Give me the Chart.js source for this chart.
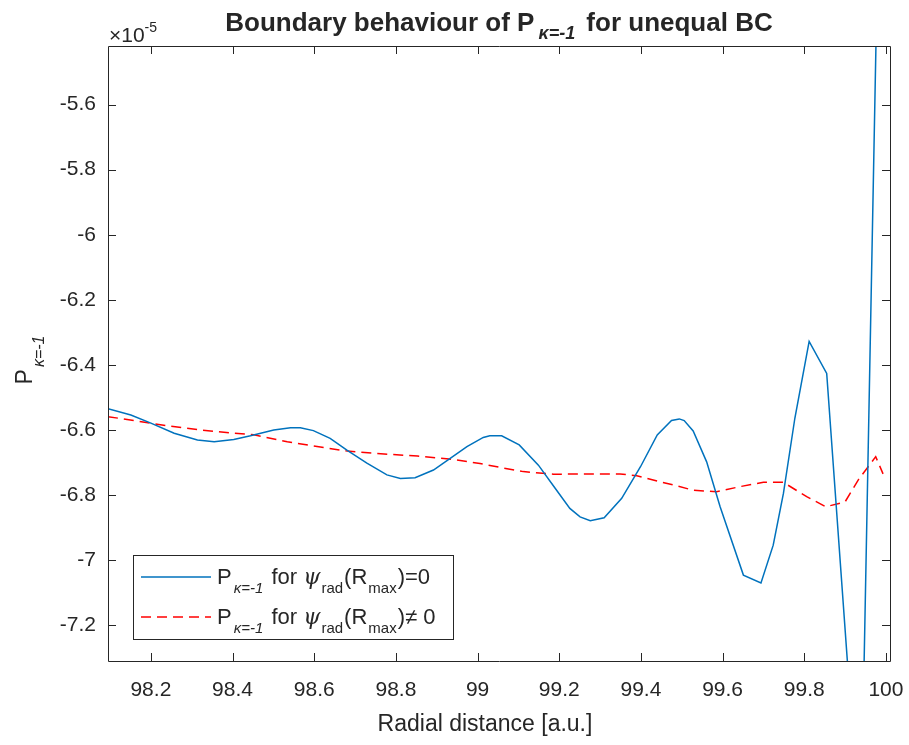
<!DOCTYPE html>
<html>
<head>
<meta charset="utf-8">
<script src="https://cdn.jsdelivr.net/npm/chart.js"></script>
<style>
  html, body { margin: 0; padding: 0; background: #fff; }
  #wrap { width: 909px; height: 745px; }
</style>
</head>
<body>
<div id="wrap"><canvas id="chart" width="909" height="745"></canvas></div>
<script>
// y values are in units of 1e-5 (axis shows x10^-5)
const blueX = [98.095, 98.151, 98.200, 98.257, 98.314, 98.355, 98.403, 98.444, 98.501, 98.542,
  98.566, 98.598, 98.639, 98.680, 98.729, 98.778, 98.811, 98.847, 98.892, 98.933,
  98.974, 99.014, 99.030, 99.059, 99.102, 99.149, 99.190, 99.226, 99.251, 99.276,
  99.310, 99.353, 99.399, 99.440, 99.475, 99.494, 99.506, 99.528, 99.561, 99.594,
  99.651, 99.694, 99.724, 99.749, 99.777, 99.812, 99.855, 99.938, 99.980];
const blueY = [-6.535, -6.554, -6.579, -6.610, -6.631, -6.636, -6.629, -6.618, -6.600, -6.593,
  -6.593, -6.602, -6.626, -6.662, -6.702, -6.738, -6.749, -6.747, -6.723, -6.687,
  -6.651, -6.623, -6.618, -6.618, -6.646, -6.708, -6.779, -6.841, -6.867, -6.879,
  -6.870, -6.810, -6.713, -6.615, -6.571, -6.566, -6.571, -6.603, -6.698, -6.836,
  -7.046, -7.070, -6.954, -6.795, -6.564, -6.328, -6.426, -7.876, -5.130];

const redX = [98.095, 98.158, 98.239, 98.321, 98.403, 98.452, 98.534, 98.607, 98.681, 98.771,
  98.853, 98.930, 99.006, 99.055, 99.112, 99.186, 99.276, 99.349, 99.390, 99.430,
  99.479, 99.528, 99.585, 99.643, 99.700, 99.749, 99.806, 99.853, 99.900, 99.932,
  99.975, 99.993];
const redY = [-6.559, -6.571, -6.587, -6.600, -6.610, -6.615, -6.636, -6.651, -6.665, -6.674,
  -6.680, -6.689, -6.703, -6.715, -6.728, -6.736, -6.735, -6.735, -6.741, -6.754,
  -6.769, -6.785, -6.790, -6.774, -6.761, -6.761, -6.805, -6.836, -6.821, -6.754,
  -6.682, -6.735];

const xTicks = [98.2, 98.4, 98.6, 98.8, 99, 99.2, 99.4, 99.6, 99.8, 100];
const xTickLabels = ['98.2', '98.4', '98.6', '98.8', '99', '99.2', '99.4', '99.6', '99.8', '100'];
const yTicks = [-7.2, -7, -6.8, -6.6, -6.4, -6.2, -6, -5.8, -5.6];
const yTickLabels = ['-7.2', '-7', '-6.8', '-6.6', '-6.4', '-6.2', '-6', '-5.8', '-5.6'];

const FONT = '"Liberation Sans", Arial, sans-serif';
const INK = '#262626';
const BLUE = '#0072BD';
const RED = '#FF0000';

function toPoints(xs, ys) {
  return xs.map((x, i) => ({ x: x, y: ys[i] }));
}

// rows of text pieces, for the sub/superscripts
function richWidth(ctx, parts) {
  let w = 0;
  parts.forEach(p => {
    ctx.font = p.font;
    w += ctx.measureText(p.t).width + (p.gap || 0);
  });
  return w;
}
function drawRich(ctx, x, y, parts, align) {
  let cx = x;
  if (align === 'center') cx = x - richWidth(ctx, parts) / 2;
  ctx.textAlign = 'left';
  ctx.textBaseline = 'alphabetic';
  parts.forEach(p => {
    ctx.font = p.font;
    cx += (p.gap || 0) / 2;
    ctx.fillText(p.t, cx, y + (p.dy || 0));
    cx += ctx.measureText(p.t).width + (p.gap || 0) / 2;
  });
}

const decorations = {
  id: 'decorations',
  afterDraw(chart) {
    const ctx = chart.ctx;
    const a = chart.chartArea;
    const xs = chart.scales.x, ys = chart.scales.y;
    ctx.save();
    ctx.strokeStyle = INK;
    ctx.fillStyle = INK;
    ctx.lineWidth = 1;

    // box and inward ticks on all sides
    ctx.beginPath();
    ctx.rect(a.left + 0.5, a.top + 0.5, a.right - a.left, a.bottom - a.top);
    xTicks.forEach(v => {
      const px = Math.round(xs.getPixelForValue(v)) + 0.5;
      ctx.moveTo(px, a.bottom); ctx.lineTo(px, a.bottom - 8);
      ctx.moveTo(px, a.top); ctx.lineTo(px, a.top + 8);
    });
    yTicks.forEach(v => {
      const py = Math.round(ys.getPixelForValue(v)) + 0.5;
      ctx.moveTo(a.left, py); ctx.lineTo(a.left + 8, py);
      ctx.moveTo(a.right, py); ctx.lineTo(a.right - 8, py);
    });
    ctx.stroke();

    // title
    const cxMid = (a.left + a.right) / 2;
    drawRich(ctx, cxMid, 31, [
      { t: 'Boundary behaviour of P', font: 'bold 26px ' + FONT },
      { t: 'κ=-1', font: 'bold italic 18px ' + FONT, dy: 8, gap: 8 },
      { t: ' for unequal BC', font: 'bold 26px ' + FONT }
    ], 'center');

    // exponent label
    drawRich(ctx, a.left + 1, 42, [
      { t: '×10', font: '21px ' + FONT },
      { t: '-5', font: '14px ' + FONT, dy: -10 }
    ], 'left');

    // x label
    drawRich(ctx, cxMid - 14, 731, [
      { t: 'Radial distance [a.u.]', font: '23px ' + FONT }
    ], 'center');

    // y label, rotated
    ctx.save();
    ctx.translate(32, 359);
    ctx.rotate(-Math.PI / 2);
    drawRich(ctx, 0, 0, [
      { t: 'P', font: '23px ' + FONT },
      { t: 'κ=-1', font: 'italic 16px ' + FONT, dy: 12, gap: 4 }
    ], 'center');
    ctx.restore();

    // legend
    const lx = 133, ly = 555, lw = 320, lh = 84;
    ctx.fillStyle = '#fff';
    ctx.fillRect(lx, ly, lw, lh);
    ctx.strokeStyle = INK;
    ctx.strokeRect(lx + 0.5, ly + 0.5, lw, lh);
    const rows = [
      { color: BLUE, dash: [], y: 577, end: ')=0' },
      { color: RED, dash: [10, 6], y: 617, end: ')≠ 0' }
    ];
    rows.forEach(r => {
      ctx.strokeStyle = r.color;
      ctx.lineWidth = 1.5;
      ctx.setLineDash(r.dash);
      ctx.beginPath();
      ctx.moveTo(141, r.y); ctx.lineTo(211, r.y);
      ctx.stroke();
      ctx.setLineDash([]);
      ctx.fillStyle = INK;
      drawRich(ctx, 217, r.y + 7, [
        { t: 'P', font: '22px ' + FONT },
        { t: 'κ=-1', font: 'italic 15px ' + FONT, dy: 9, gap: 4 },
        { t: ' for ', font: '22px ' + FONT },
        { t: 'ψ', font: 'italic 22px "DejaVu Serif", serif' },
        { t: 'rad', font: '15px ' + FONT, dy: 9, gap: 2 },
        { t: '(R', font: '22px ' + FONT },
        { t: 'max', font: '15px ' + FONT, dy: 9, gap: 2 },
        { t: r.end, font: '22px ' + FONT }
      ], 'left');
    });
    ctx.restore();
  }
};

new Chart(document.getElementById('chart'), {
  type: 'line',
  data: {
    datasets: [
      {
        label: 'P for psi_rad(Rmax)=0',
        data: toPoints(blueX, blueY),
        borderColor: BLUE,
        borderWidth: 1.5,
        pointRadius: 0,
        tension: 0,
        fill: false,
        clip: 0
      },
      {
        label: 'P for psi_rad(Rmax)!=0',
        data: toPoints(redX, redY),
        borderColor: RED,
        borderWidth: 1.5,
        borderDash: [10, 6],
        pointRadius: 0,
        tension: 0,
        fill: false,
        clip: 0
      }
    ]
  },
  options: {
    responsive: false,
    animation: false,
    layout: { padding: { top: 46, right: 19, bottom: 0, left: 0 } },
    plugins: {
      legend: { display: false },
      title: { display: false },
      tooltip: { enabled: false }
    },
    scales: {
      x: {
        type: 'linear',
        min: 98.095,
        max: 100.01,
        afterBuildTicks: s => { s.ticks = xTicks.map(v => ({ value: v })); },
        afterFit: s => { s.height = 84; s.paddingLeft = 0; s.paddingRight = 0; },
        ticks: {
          callback: (v, i) => xTickLabels[i],
          font: { family: FONT, size: 21 },
          color: INK,
          padding: 17,
          maxRotation: 0,
          autoSkip: false
        },
        grid: { display: false, drawTicks: false },
        border: { display: false }
      },
      y: {
        type: 'linear',
        min: -7.31,
        max: -5.42,
        afterBuildTicks: s => { s.ticks = yTicks.map(v => ({ value: v })); },
        afterFit: s => { s.width = 108; s.paddingTop = 0; s.paddingBottom = 0; },
        ticks: {
          callback: (v, i) => yTickLabels[i],
          font: { family: FONT, size: 21 },
          color: INK,
          padding: 12,
          autoSkip: false
        },
        grid: { display: false, drawTicks: false },
        border: { display: false }
      }
    }
  },
  plugins: [decorations]
});
</script>
</body>
</html>
